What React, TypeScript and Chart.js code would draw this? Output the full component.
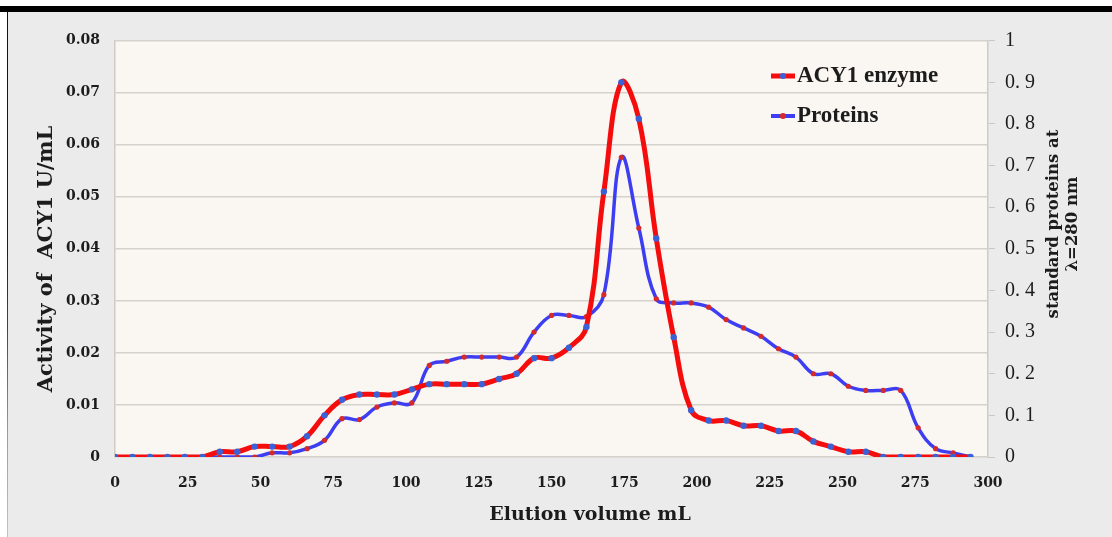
import { useEffect, useRef } from "react";
import { Chart, registerables } from "chart.js";

Chart.register(...registerables);

// Elution volume of each collected fraction (mL)
const volumeML = [
  0, 6, 12, 18, 24, 30, 36, 42, 48, 54,
  60, 66, 72, 78, 84, 90, 96, 102, 108, 114,
  120, 126, 132, 138, 144, 150, 156, 162, 168, 174,
  180, 186, 192, 198, 204, 210, 216, 222, 228, 234,
  240, 246, 252, 258, 264, 270, 276, 282, 288, 294,
];

// ACY1 enzyme activity (U/mL), left axis
const acy1Activity = [
  0, 0, 0, 0, 0, 0, 0.001, 0.001, 0.002, 0.002,
  0.002, 0.004, 0.008, 0.011, 0.012, 0.012, 0.012, 0.013, 0.014, 0.014,
  0.014, 0.014, 0.015, 0.016, 0.019, 0.019, 0.021, 0.025, 0.051, 0.072,
  0.065, 0.042, 0.023, 0.009, 0.007, 0.007, 0.006, 0.006, 0.005, 0.005,
  0.003, 0.002, 0.001, 0.001, 0, 0, 0, 0, 0, 0,
];

// Standard proteins absorbance at 280 nm, right axis
const proteinAbs = [
  0, 0, 0, 0, 0, 0, 0, 0, 0, 0.01,
  0.01, 0.02, 0.04, 0.092, 0.09, 0.12, 0.13, 0.13, 0.22, 0.23,
  0.24, 0.24, 0.24, 0.24, 0.3, 0.34, 0.34, 0.337, 0.39, 0.72,
  0.55, 0.38, 0.37, 0.37, 0.36, 0.33, 0.31, 0.29, 0.26, 0.24,
  0.2, 0.2, 0.17, 0.16, 0.16, 0.16, 0.07, 0.02, 0.01, 0,
];

const leftTickLabels = ["0", "0.01", "0.02", "0.03", "0.04", "0.05", "0.06", "0.07", "0.08"];
const rightTickLabels = ["0", "0. 1", "0. 2", "0. 3", "0. 4", "0. 5", "0. 6", "0. 7", "0. 8", "0. 9", "1"];

const seriesNames = ["ACY1 enzyme", "Proteins"];
const xTitle = "Elution volume mL";
const leftTitle = "Activity of  ACY1 U/mL";
const rightTitle = ["standard proteins at", "λ=280 nm"];

const RED = "#f50d0d";
const BLUE = "#3d3df2";
const RED_DOT = "#d42a2a";
const BLUE_DOT = "#3a62d6";
const INK = "#1c1c1c";

const decorPlugin = {
  id: "decor",
  beforeDraw(chart: any) {
    const { ctx, chartArea: a, width, height } = chart;
    ctx.save();
    ctx.fillStyle = "#ebebeb";
    ctx.fillRect(0, 0, width, height);
    ctx.fillStyle = "#faf7f2";
    ctx.fillRect(a.left, a.top, a.right - a.left, a.bottom - a.top);
    ctx.restore();
  },
  afterDraw(chart: any) {
    const { ctx } = chart;
    ctx.save();
    ctx.fillStyle = INK;
    ctx.textAlign = "center";
    ctx.textBaseline = "middle";

    // left axis title
    ctx.save();
    ctx.translate(39, 247);
    ctx.rotate(-Math.PI / 2);
    ctx.font = "bold 21px 'DejaVu Serif'";
    ctx.fillText(leftTitle, 0, 0);
    ctx.restore();

    // right axis title (two lines)
    ctx.save();
    ctx.translate(1046, 212);
    ctx.rotate(-Math.PI / 2);
    ctx.font = "bold 16.5px 'DejaVu Serif'";
    ctx.fillText(rightTitle[0], 0, 0);
    ctx.fillText(rightTitle[1], 0, 19);
    ctx.restore();

    // x axis title
    ctx.font = "bold 19px 'DejaVu Serif'";
    ctx.fillText(xTitle, 582, 503);

    // legend
    const items = [
      { y: 64, line: RED, dot: BLUE_DOT, lw: 5 },
      { y: 104, line: BLUE, dot: RED_DOT, lw: 4 },
    ];
    items.forEach((it, i) => {
      ctx.strokeStyle = it.line;
      ctx.lineWidth = it.lw;
      ctx.beginPath();
      ctx.moveTo(763, it.y);
      ctx.lineTo(787, it.y);
      ctx.stroke();
      ctx.fillStyle = it.dot;
      ctx.beginPath();
      ctx.arc(775, it.y, 3, 0, Math.PI * 2);
      ctx.fill();
      ctx.fillStyle = INK;
      ctx.textAlign = "left";
      ctx.font = "bold 23px 'Liberation Serif'";
      ctx.fillText(seriesNames[i], 789, it.y);
    });
    ctx.restore();
  },
};

export default function App() {
  const canvasRef = useRef<HTMLCanvasElement | null>(null);

  useEffect(() => {
    if (!canvasRef.current) return;
    const chart = new Chart(canvasRef.current, {
      type: "line",
      data: {
        datasets: [
          {
            label: seriesNames[0],
            data: volumeML.map((v, i) => ({ x: v, y: acy1Activity[i] })),
            yAxisID: "y",
            borderColor: RED,
            borderWidth: 5,
            pointBackgroundColor: BLUE_DOT,
            pointBorderWidth: 0,
            pointRadius: 3.2,
            tension: 0.4,
            order: 0,
          },
          {
            label: seriesNames[1],
            data: volumeML.map((v, i) => ({ x: v, y: proteinAbs[i] })),
            yAxisID: "y1",
            borderColor: BLUE,
            borderWidth: 3.5,
            pointBackgroundColor: RED_DOT,
            pointBorderWidth: 0,
            pointRadius: 2.6,
            tension: 0.4,
            order: 1,
          },
        ],
      },
      options: {
        animation: false,
        responsive: true,
        maintainAspectRatio: false,
        layout: { padding: { top: 28.7, left: 0, right: 0, bottom: 0 } },
        plugins: { legend: { display: false }, tooltip: { enabled: false } },
        scales: {
          x: {
            type: "linear",
            min: 0,
            max: 300,
            grid: { display: false },
            border: { display: false },
            ticks: {
              stepSize: 25,
              padding: 10,
              color: INK,
              font: { family: "'DejaVu Serif'", weight: "bold", size: 14 },
            },
            afterFit(scale: any) {
              scale.height = 80;
            },
          },
          y: {
            position: "left",
            min: 0,
            max: 0.08,
            grid: { color: "#d5d1cb", lineWidth: 1.5, drawTicks: false },
            border: { display: true, color: "#cfcbc5", width: 1.5 },
            ticks: {
              stepSize: 0.01,
              padding: 15,
              color: INK,
              font: { family: "'DejaVu Serif'", weight: "bold", size: 14 },
              callback: (v: any) => leftTickLabels[Math.round(Number(v) * 100)],
            },
            afterFit(scale: any) {
              scale.width = 107;
            },
          },
          y1: {
            position: "right",
            min: 0,
            max: 1,
            grid: { drawOnChartArea: false, color: "#c8c8c8", tickLength: 7 },
            border: { display: true, color: "#cfcbc5", width: 1.5 },
            ticks: {
              stepSize: 0.1,
              padding: 10,
              color: INK,
              font: { family: "'Liberation Serif'", size: 20 },
              callback: (v: any) => rightTickLabels[Math.round(Number(v) * 10)],
            },
            afterFit(scale: any) {
              scale.width = 124;
            },
          },
        },
      },
      plugins: [decorPlugin],
    });
    return () => chart.destroy();
  }, []);

  return (
    <div style={{ position: "fixed", left: 0, top: 0, width: 1112, height: 537, background: "#fff", overflow: "hidden" }}>
      <div style={{ position: "absolute", left: 0, top: 6, width: 1112, height: 6, background: "#000" }} />
      <div
        style={{
          position: "absolute",
          left: 7,
          top: 12,
          width: 1.5,
          height: 525,
          background: "linear-gradient(#111 0%, #2a1040 45%, #7a1f6a 60%, #e08a3a 80%, #f2c050 100%)",
        }}
      />
      <div style={{ position: "absolute", left: 8, top: 12, width: 1104, height: 525 }}>
        <canvas ref={canvasRef} />
      </div>
    </div>
  );
}
